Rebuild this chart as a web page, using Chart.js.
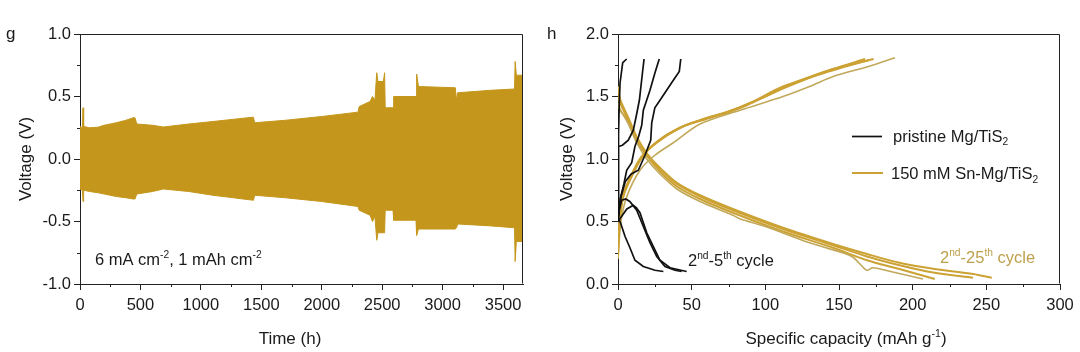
<!DOCTYPE html>
<html>
<head>
<meta charset="utf-8">
<script src="https://cdn.jsdelivr.net/npm/chart.js@4.4.1/dist/chart.umd.min.js"></script>
<style>
    html, body { margin: 0; padding: 0; background: #fff; }
    #wrap { position: relative; width: 1080px; height: 352px; overflow: hidden; }
    canvas { position: absolute; top: 0; }
    #chart-g { left: 0; }
    #chart-h { left: 540px; }
</style>
</head>
<body>
<div id="wrap">
    <canvas id="chart-g" width="540" height="352"></canvas>
    <canvas id="chart-h" width="540" height="352"></canvas>
</div>
<script>
// ---- panel g: voltage envelope of Mg cycling ----
const timeH = [0, 20, 25, 30, 80, 150, 200, 300, 380, 440,
    455, 470, 600, 690, 900, 1100, 1435, 1445, 1700, 2000,
    2300, 2310, 2400, 2420, 2440, 2455, 2465, 2510, 2520, 2525,
    2590, 2595, 2780, 2785, 2800, 3105, 3115, 3125, 3400, 3595,
    3600, 3610, 3665];
const upperV = [0.26, 0.25, 0.41, 0.26, 0.25, 0.255, 0.27, 0.29, 0.31, 0.33,
    0.33, 0.28, 0.27, 0.256, 0.28, 0.30, 0.335, 0.29, 0.31, 0.34,
    0.375, 0.42, 0.46, 0.50, 0.47, 0.69, 0.62, 0.62, 0.69, 0.41,
    0.41, 0.50, 0.50, 0.68, 0.58, 0.57, 0.47, 0.53, 0.55, 0.56,
    0.78, 0.67, 0.67];
const lowerV = [-0.24, -0.25, -0.34, -0.25, -0.26, -0.27, -0.28, -0.30, -0.31, -0.32,
    -0.32, -0.28, -0.26, -0.24, -0.26, -0.29, -0.33, -0.29, -0.31, -0.34,
    -0.38, -0.41, -0.45, -0.50, -0.46, -0.65, -0.59, -0.59, -0.59, -0.41,
    -0.41, -0.49, -0.49, -0.61, -0.56, -0.56, -0.55, -0.52, -0.535, -0.55,
    -0.82, -0.66, -0.66];
const timeRange = [0, 3665];
const timeTickValues = [0, 500, 1000, 1500, 2000, 2500, 3000, 3500];
const voltRangeG = [-1, 1];
const voltTickValuesG = [-1, -0.5, 0, 0.5, 1];

// ---- panel h: charge / discharge curves [capacity mAh/g, voltage V] ----
const pristineCharge = [
    [[0, 0.6], [0.2, 0.9], [0.5, 1.2], [0.8, 1.42], [1.4, 1.61], [3.2, 1.77], [5.9, 1.80]],
    [[0, 0.55], [0.2, 0.83], [0.2, 1.10], [3, 1.11], [7, 1.15], [10.4, 1.23], [12.5, 1.35], [14.5, 1.47], [16.8, 1.71], [17.7, 1.80]],
    [[0, 0.5], [1.5, 0.68], [4, 0.8], [5.9, 0.91], [9.3, 0.97], [11.5, 1.10], [14, 1.18], [16.1, 1.27], [17.2, 1.39], [21.7, 1.55], [25.1, 1.69], [28, 1.80]],
    [[0, 0.52], [2, 0.7], [5, 0.82], [9, 0.88], [13.8, 0.91], [18.3, 1.03], [22.2, 1.15], [22.9, 1.29], [25, 1.41], [28.5, 1.47], [36.4, 1.61], [41.6, 1.70], [42.6, 1.80]]
];
const pristineDischarge = [
    [[0, 0.52], [1.4, 0.50], [4.8, 0.38], [8.1, 0.29], [11.5, 0.19], [17.2, 0.14], [25.1, 0.11], [30.8, 0.10]],
    [[0, 0.5], [1, 0.6], [2.5, 0.67], [5.3, 0.68], [8, 0.66], [12.7, 0.59], [17.2, 0.46], [21.7, 0.33], [26.3, 0.22], [31.9, 0.14], [38.7, 0.11], [43.2, 0.10]],
    [[0, 0.5], [3, 0.55], [6, 0.6], [10.4, 0.63], [12.5, 0.61], [14.9, 0.57], [19.5, 0.41], [24, 0.30], [28.5, 0.19], [35.3, 0.13], [46.6, 0.10]]
];
const snCharge = [
    [[0, 0.25], [1, 0.5], [3, 0.7], [7, 0.82], [14.9, 1.0], [26.3, 1.13], [42, 1.25], [55.7, 1.31], [73.8, 1.37], [87.4, 1.43], [105, 1.53], [130, 1.65], [146, 1.72], [167.7, 1.80]],
    [[0, 0.3], [1.5, 0.55], [4, 0.72], [9, 0.86], [16, 1.02], [28, 1.15], [44, 1.26], [58, 1.32], [75, 1.38], [90, 1.45], [112, 1.58], [146, 1.71], [170, 1.79]],
    [[0, 0.22], [1.2, 0.5], [3.6, 0.7], [9.3, 0.86], [18, 1.04], [30, 1.17], [46, 1.27], [60, 1.32], [80, 1.40], [100, 1.50], [120, 1.61], [146, 1.72], [173.5, 1.80]],
    [[0, 0.2], [2, 0.5], [6, 0.7], [14.9, 0.91], [25, 1.03], [37.5, 1.13], [55.7, 1.28], [82.8, 1.39], [112, 1.50], [130, 1.58], [146, 1.66], [170, 1.74], [188, 1.81]]
];
const snDischarge = [
    [[0, 1.45], [1.4, 1.40], [7, 1.28], [12.7, 1.13], [19.5, 1.0], [28.5, 0.88], [40, 0.76], [55.7, 0.66], [78, 0.55], [83, 0.52], [100, 0.46], [130, 0.33], [155, 0.24], [160, 0.21], [165, 0.15], [169, 0.11], [173, 0.13], [185, 0.10], [207, 0.04]],
    [[0, 1.42], [2, 1.38], [7, 1.30], [13, 1.15], [20, 1.02], [28.5, 0.9], [40, 0.78], [55.7, 0.68], [78, 0.57], [112, 0.42], [146, 0.29], [169, 0.19], [191, 0.12], [215, 0.04]],
    [[0, 1.5], [1.4, 1.45], [7, 1.31], [12.7, 1.15], [19.5, 1.03], [28.5, 0.92], [40, 0.80], [55.7, 0.70], [78, 0.59], [112, 0.44], [146, 0.31], [169, 0.22], [191, 0.15], [215, 0.09], [241, 0.05]],
    [[0, 1.58], [1.4, 1.48], [7, 1.33], [13, 1.17], [20, 1.04], [28.5, 0.93], [40, 0.81], [55.7, 0.71], [78, 0.60], [112, 0.45], [146, 0.32], [169, 0.24], [191, 0.17], [215, 0.12], [241, 0.08], [253.7, 0.05]]
];
const capRange = [0, 300];
const capTickValues = [0, 50, 100, 150, 200, 250, 300];
const voltRangeH = [0, 2];
const voltTickValuesH = [0, 0.5, 1, 1.5, 2];

const FONT = "'Liberation Sans', Arial, sans-serif";
const INK = '#1a1a1a';
const GOLD_FILL = '#C4961B';
const GOLD = '#CCA234';
const GOLD_LIGHT = '#C1A85A';
const GOLD_TEXT = '#BDA04C';

// draw a run of text pieces, some raised or lowered
function richText(ctx, x, y, parts, size, color, align) {
    ctx.save();
    ctx.fillStyle = color;
    ctx.textBaseline = 'alphabetic';
    ctx.textAlign = 'left';
    const fontFor = (kind) => `${kind ? size * 0.62 : size}px ${FONT}`;
    let total = 0;
    parts.forEach(([txt, kind]) => {
        ctx.font = fontFor(kind);
        total += ctx.measureText(txt).width;
    });
    let cx = align === 'center' ? x - total / 2 : x;
    parts.forEach(([txt, kind]) => {
        ctx.font = fontFor(kind);
        const dy = kind === 'sup' ? -size * 0.4 : kind === 'sub' ? size * 0.22 : 0;
        ctx.fillText(txt, cx, y + dy);
        cx += ctx.measureText(txt).width;
    });
    ctx.restore();
}

// box around the plot, short minor ticks, legend and notes
const framePlugin = {
    id: 'frame',
    afterDraw(chart) {
        const { ctx, chartArea: a, scales } = chart;
        ctx.save();
        ctx.strokeStyle = '#222';
        ctx.lineWidth = 1;
        const l = Math.round(a.left) + 0.5, r = Math.round(a.right) - 0.5;
        const t = Math.round(a.top) + 0.5, b = Math.round(a.bottom) - 0.5;
        ctx.beginPath();
        ctx.moveTo(l, t); ctx.lineTo(r, t); ctx.lineTo(r, b);
        ctx.stroke();

        const mids = (s) => {
            const v = s.ticks.map(tk => tk.value);
            const step = v[1] - v[0];
            return v.map(x => x + step / 2).filter(x => x < s.max);
        };
        ctx.beginPath();
        mids(scales.x).forEach(m => {
            const px = Math.round(scales.x.getPixelForValue(m)) + 0.5;
            ctx.moveTo(px, a.bottom); ctx.lineTo(px, a.bottom + 3);
        });
        mids(scales.y).forEach(m => {
            const py = Math.round(scales.y.getPixelForValue(m)) + 0.5;
            ctx.moveTo(a.left - 3, py); ctx.lineTo(a.left, py);
        });
        ctx.stroke();

        (chart.options.plugins.notes || []).forEach(n => {
            if (n.line) {
                ctx.beginPath();
                ctx.strokeStyle = n.line.color;
                ctx.lineWidth = n.line.width;
                ctx.moveTo(n.line.x1, n.line.y); ctx.lineTo(n.line.x2, n.line.y);
                ctx.stroke();
            } else {
                richText(ctx, n.x, n.y, n.parts, n.size, n.color, n.align);
            }
        });
        ctx.restore();
    }
};

function makeAxes(xRange, xTicks, yRange, yTicks, xDec, yDec, yTitle, yAxisWidth, yTitlePad) {
    const tickFont = { family: FONT, size: 16.5 };
    const grid = { drawOnChartArea: false, drawTicks: true, tickLength: 6, color: '#222' };
    const border = { display: true, color: '#222', width: 1 };
    return {
        x: {
            type: 'linear', position: 'bottom',
            min: xRange[0], max: xRange[1],
            afterFit: (s) => { s.height = 68; },
            afterBuildTicks: (s) => { s.ticks = xTicks.map(v => ({ value: v })); },
            ticks: {
                autoSkip: false, maxRotation: 0, padding: 6, color: INK, font: tickFont,
                callback: (v) => v.toFixed(xDec)
            },
            grid, border
        },
        y: {
            type: 'linear', position: 'left',
            min: yRange[0], max: yRange[1],
            afterFit: (s) => { s.width = yAxisWidth; },
            afterBuildTicks: (s) => { s.ticks = yTicks.map(v => ({ value: v })); },
            ticks: {
                autoSkip: false, padding: 3, color: INK, font: tickFont,
                callback: (v) => v.toFixed(yDec)
            },
            grid, border,
            title: {
                display: true, text: yTitle, color: INK,
                font: { family: FONT, size: 17 },
                padding: { top: yTitlePad, bottom: 0 }
            }
        }
    };
}

const toPts = (pairs) => pairs.map(([x, y]) => ({ x, y }));

// panel g
new Chart(document.getElementById('chart-g'), {
    type: 'line',
    data: {
        datasets: [
            {
                data: timeH.map((t, i) => ({ x: t, y: upperV[i] })),
                borderColor: GOLD_FILL, backgroundColor: GOLD_FILL,
                borderWidth: 1, pointRadius: 0, fill: '+1'
            },
            {
                data: timeH.map((t, i) => ({ x: t, y: lowerV[i] })),
                borderColor: GOLD_FILL, borderWidth: 1, pointRadius: 0, fill: false
            }
        ]
    },
    options: {
        responsive: false, animation: false,
        layout: { padding: { top: 34, right: 17, left: 0, bottom: 0 } },
        scales: makeAxes(timeRange, timeTickValues, voltRangeG, voltTickValuesG, 0, 1, 'Voltage (V)', 80, 16),
        plugins: {
            legend: { display: false }, tooltip: { enabled: false },
            notes: [
                { x: 6, y: 39, size: 17, color: INK, parts: [['g']] },
                { x: 290, y: 344, size: 17, color: INK, align: 'center', parts: [['Time (h)']] },
                { x: 95, y: 265, size: 16.5, color: INK,
                  parts: [['6 mA cm'], ['-2', 'sup'], [', 1 mAh cm'], ['-2', 'sup']] }
            ]
        }
    },
    plugins: [framePlugin]
});

// panel h
const hSets = [];
pristineCharge.concat(pristineDischarge).forEach(c => hSets.push({
    data: toPts(c), borderColor: '#111', borderWidth: 1.7, pointRadius: 0, fill: false, tension: 0
}));
snCharge.concat(snDischarge).forEach((c, i) => hSets.push({
    data: toPts(c), borderColor: (i === 3 || i === 4) ? GOLD_LIGHT : GOLD,
    borderWidth: (i === 3 || i === 4) ? 1.6 : 2, pointRadius: 0, fill: false, tension: 0.3
}));

new Chart(document.getElementById('chart-h'), {
    type: 'line',
    data: { datasets: hSets },
    options: {
        responsive: false, animation: false,
        layout: { padding: { top: 34, right: 20, left: 0, bottom: 0 } },
        scales: makeAxes(capRange, capTickValues, voltRangeH, voltTickValuesH, 0, 1, 'Voltage (V)', 78, 17),
        plugins: {
            legend: { display: false }, tooltip: { enabled: false },
            notes: [
                { x: 7, y: 39, size: 17, color: INK, parts: [['h']] },
                { x: 306, y: 344, size: 17, color: INK, align: 'center',
                  parts: [['Specific capacity (mAh g'], ['-1', 'sup'], [')']] },
                { line: { x1: 312, x2: 342, y: 136.5, color: '#111', width: 1.7 } },
                { x: 353, y: 141.5, size: 16.5, color: INK, parts: [['pristine Mg/TiS'], ['2', 'sub']] },
                { line: { x1: 312, x2: 343, y: 173, color: GOLD, width: 2 } },
                { x: 351, y: 179, size: 16.5, color: INK, parts: [['150 mM Sn-Mg/TiS'], ['2', 'sub']] },
                { x: 148, y: 266, size: 16.5, color: INK,
                  parts: [['2'], ['nd', 'sup'], ['-5'], ['th', 'sup'], [' cycle']] },
                { x: 400, y: 263, size: 16.5, color: GOLD_TEXT,
                  parts: [['2'], ['nd', 'sup'], ['-25'], ['th', 'sup'], [' cycle']] }
            ]
        }
    },
    plugins: [framePlugin]
});
</script>
</body>
</html>
